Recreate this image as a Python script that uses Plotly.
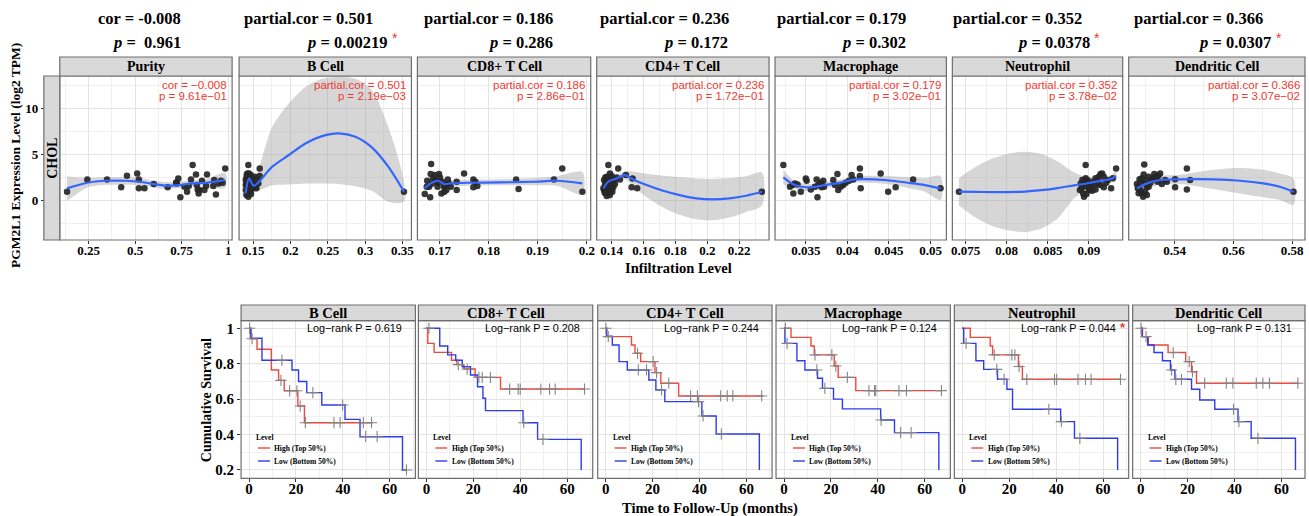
import plotly.graph_objects as go

W, H = 1309, 516

# ===================== DATA: correlation panels =====================
top_cells = ["Purity", "B Cell", "CD8+ T Cell", "CD4+ T Cell", "Macrophage", "Neutrophil", "Dendritic Cell"]
top_stat_name = ["cor", "partial.cor", "partial.cor", "partial.cor", "partial.cor", "partial.cor", "partial.cor"]
top_stat_value = ["-0.008", "0.501", "0.186", "0.236", "0.179", "0.352", "0.366"]
top_p_value = ["\u00a00.961", "0.00219", "0.286", "0.172", "0.302", "0.0378", "0.0307"]
top_p_sci = ["9.61e\u221201", "2.19e\u221203", "2.86e\u221201", "1.72e\u221201", "3.02e\u221201", "3.78e\u221202", "3.07e\u221202"]
top_signif = [False, True, False, False, False, True, True]
cancer_label = "CHOL"

expr_ticks = [0, 5, 10]
expr_ticklabels = ["0", "5", "10"]
expr_minor = [-2.5, 2.5, 7.5, 12.5]

purity_ticks = [0.25, 0.5, 0.75, 1.0]
purity_ticklabels = ["0.25", "0.5", "0.75", "1"]
purity_minor = [0.125, 0.375, 0.625, 0.875]
bcell_ticks = [0.15, 0.2, 0.25, 0.3, 0.35]
bcell_ticklabels = ["0.15", "0.2", "0.25", "0.3", "0.35"]
bcell_minor = [0.175, 0.225, 0.275, 0.325]
cd8_ticks = [0.17, 0.18, 0.19, 0.2]
cd8_ticklabels = ["0.17", "0.18", "0.19", "0.2"]
cd8_minor = [0.175, 0.185, 0.195]
cd4_ticks = [0.14, 0.16, 0.18, 0.2, 0.22]
cd4_ticklabels = ["0.14", "0.16", "0.18", "0.2", "0.22"]
cd4_minor = [0.15, 0.17, 0.19, 0.21, 0.23]
mac_ticks = [0.035, 0.04, 0.045, 0.05]
mac_ticklabels = ["0.035", "0.04", "0.045", "0.05"]
mac_minor = [0.0325, 0.0375, 0.0425, 0.0475]
neu_ticks = [0.075, 0.08, 0.085, 0.09]
neu_ticklabels = ["0.075", "0.08", "0.085", "0.09"]
neu_minor = [0.0775, 0.0825, 0.0875, 0.0925]
dc_ticks = [0.54, 0.56, 0.58]
dc_ticklabels = ["0.54", "0.56", "0.58"]
dc_minor = [0.53, 0.55, 0.57]

purity_x = [0.134, 0.243, 0.349, 0.425, 0.456, 0.511, 0.520, 0.520, 0.550, 0.600, 0.675, 0.720, 0.732, 0.743, 0.765, 0.779, 0.800, 0.809, 0.827, 0.831, 0.836, 0.841, 0.859, 0.872, 0.881, 0.886, 0.920, 0.925, 0.934, 0.949, 0.961, 0.970, 0.984, 0.724, 0.788, 0.845]
purity_y = [0.90, 2.24, 2.24, 1.38, 2.64, 2.90, 2.24, 1.27, 1.27, 1.74, 1.38, 1.92, 2.35, 0.29, 1.45, 0.90, 2.24, 3.80, 2.79, 1.63, 1.16, 0.72, 2.10, 1.09, 1.52, 2.79, 1.52, 2.17, 0.61, 1.81, 2.10, 1.88, 3.44, 1.81, 1.52, 1.09]
purity_fit_x = [0.134, 0.243, 0.349, 0.452, 0.524, 0.600, 0.675, 0.738, 0.809, 0.881, 0.984]
purity_fit_y = [1.27, 1.88, 2.10, 2.10, 1.99, 1.74, 1.56, 1.63, 1.81, 1.88, 2.17]
purity_fit_hi = [2.6, 2.4, 2.5, 2.5, 2.4, 2.1, 1.95, 2.0, 2.15, 2.3, 2.95]
purity_fit_lo = [-0.1, 1.35, 1.65, 1.65, 1.6, 1.35, 1.2, 1.3, 1.45, 1.45, 1.35]

bcell_x = [0.1437, 0.1589, 0.1424, 0.1469, 0.1411, 0.1491, 0.1446, 0.1411, 0.1469, 0.1513, 0.1535, 0.1424, 0.1402, 0.1446, 0.1411, 0.1437, 0.1589, 0.1491, 0.1460, 0.1424, 0.1446, 0.1482, 0.1571, 0.1402, 0.1433, 0.1469, 0.1500, 0.1420, 0.1557, 0.1446, 0.1526, 0.1415, 0.1473, 0.1544, 0.1402, 0.352]
bcell_y = [3.81, 3.44, 2.90, 2.72, 2.36, 2.36, 2.18, 1.81, 1.81, 1.63, 1.45, 1.45, 1.09, 0.91, 0.55, 0.36, 2.61, 1.27, 1.52, 1.99, 2.54, 1.99, 1.81, 1.63, 1.16, 1.02, 1.74, 0.80, 2.18, 2.90, 2.54, 2.72, 0.65, 1.27, 2.18, 0.91]
bcell_fit_x = [0.140, 0.1447, 0.151, 0.1757, 0.198, 0.220, 0.2424, 0.2646, 0.287, 0.309, 0.331, 0.352]
bcell_fit_y = [0.73, 2.36, 1.55, 3.63, 4.9, 6.16, 6.96, 7.25, 6.89, 5.73, 3.63, 0.91]
bcell_fit_hi = [1.5, 3.0, 2.2, 7.97, 10.5, 12.3, 13.2, 13.4, 13.2, 11.96, 7.97, 2.0]
bcell_fit_lo = [0.0, 1.7, 0.9, 1.6, 1.7, 1.8, 1.8, 1.75, 1.5, 1.0, -0.2, -0.2]

cd8_x = [0.1670, 0.1681, 0.1683, 0.1682, 0.1675, 0.1679, 0.1685, 0.1690, 0.1692, 0.1696, 0.1699, 0.1701, 0.1704, 0.1706, 0.1709, 0.1710, 0.1714, 0.1717, 0.1719, 0.1723, 0.1735, 0.1735, 0.1750, 0.1769, 0.1769, 0.1773, 0.1777, 0.1856, 0.1861, 0.1933, 0.1950, 0.1991, 0.1674, 0.1687, 0.1697, 0.1712]
cd8_y = [0.65, 0.29, 3.91, 2.82, 2.10, 1.45, 1.81, 2.72, 2.10, 1.45, 2.82, 2.46, 0.72, 1.99, 1.45, 0.90, 1.09, 2.24, 1.81, 1.45, 1.09, 1.99, 2.90, 2.24, 1.38, 1.99, 1.52, 2.24, 1.20, 2.24, 3.44, 0.90, 1.45, 2.35, 1.88, 1.63]
cd8_fit_x = [0.1670, 0.1682, 0.1697, 0.1709, 0.1723, 0.1756, 0.1824, 0.1891, 0.1939, 0.1991]
cd8_fit_y = [1.27, 1.81, 2.10, 1.74, 1.81, 1.88, 1.92, 1.99, 2.10, 1.81]
cd8_fit_hi = [1.9, 2.3, 2.5, 2.1, 2.15, 2.2, 2.25, 2.4, 2.6, 3.05]
cd8_fit_lo = [0.65, 1.3, 1.7, 1.4, 1.45, 1.55, 1.6, 1.6, 1.55, 0.6]

cd4_x = [0.1379, 0.1441, 0.1352, 0.1369, 0.1389, 0.1400, 0.1358, 0.1379, 0.1394, 0.1406, 0.1352, 0.1364, 0.1369, 0.1385, 0.1400, 0.1410, 0.1348, 0.1364, 0.1373, 0.1385, 0.1414, 0.1452, 0.1489, 0.1531, 0.1525, 0.1560, 0.1356, 0.1389, 0.1381, 0.1398, 0.1360, 0.1421, 0.1375, 0.1404, 0.1431, 0.2343]
cd4_y = [3.80, 3.44, 2.17, 2.54, 2.90, 2.61, 1.63, 1.81, 1.45, 1.99, 1.09, 0.72, 0.43, 0.90, 1.16, 1.38, 1.27, 1.88, 1.38, 2.24, 2.17, 2.24, 2.72, 2.35, 1.38, 1.27, 0.80, 0.54, 1.63, 1.88, 2.46, 1.74, 1.16, 0.90, 2.46, 0.90]
cd4_fit_x = [0.1348, 0.1379, 0.1431, 0.1483, 0.1535, 0.1619, 0.1723, 0.1827, 0.1931, 0.2035, 0.2139, 0.2244, 0.2343]
cd4_fit_y = [1.27, 1.99, 2.35, 2.72, 2.24, 1.63, 1.01, 0.54, 0.18, 0.07, 0.18, 0.47, 0.90]
cd4_fit_hi = [1.9, 2.4, 2.7, 3.1, 3.1, 2.85, 2.65, 2.5, 2.35, 2.3, 2.4, 2.6, 3.0]
cd4_fit_lo = [0.5, 1.5, 2.0, 2.3, 1.5, 0.3, -0.8, -1.6, -2.1, -2.2, -1.9, -1.3, -0.6]

mac_x = [0.0323, 0.0331, 0.0335, 0.0337, 0.0340, 0.0344, 0.0350, 0.0351, 0.0356, 0.0363, 0.0364, 0.0365, 0.0368, 0.0371, 0.0372, 0.0383, 0.0385, 0.0388, 0.0389, 0.0392, 0.0395, 0.0398, 0.0402, 0.0405, 0.0407, 0.0415, 0.0415, 0.0416, 0.0440, 0.0449, 0.0458, 0.0479, 0.0512, 0.0369, 0.0334, 0.0361]
mac_y = [3.80, 1.45, 0.72, 1.81, 1.70, 0.90, 2.35, 2.10, 1.16, 2.24, 0.29, 1.63, 1.88, 2.10, 1.45, 2.17, 1.63, 2.82, 1.09, 1.45, 1.63, 1.88, 2.10, 2.72, 2.24, 3.44, 2.61, 1.27, 2.90, 0.90, 1.38, 2.24, 1.27, 1.38, 1.63, 1.45]
mac_fit_x = [0.0323, 0.0333, 0.0345, 0.0357, 0.0373, 0.0393, 0.0409, 0.0433, 0.0453, 0.0473, 0.0493, 0.0512]
mac_fit_y = [2.46, 1.81, 1.45, 1.38, 1.63, 1.92, 2.24, 2.24, 2.10, 1.88, 1.63, 1.27]
mac_fit_hi = [3.3, 2.3, 1.85, 1.75, 1.95, 2.25, 2.6, 2.65, 2.6, 2.5, 2.4, 2.6]
mac_fit_lo = [1.7, 1.35, 1.05, 1.0, 1.3, 1.6, 1.9, 1.85, 1.65, 1.3, 0.9, 0.0]

neu_x = [0.0896, 0.0892, 0.0894, 0.0891, 0.0893, 0.0894, 0.0896, 0.0898, 0.0900, 0.0900, 0.0902, 0.0904, 0.0906, 0.0908, 0.0910, 0.0912, 0.0914, 0.0916, 0.0918, 0.0918, 0.0921, 0.0927, 0.0929, 0.0933, 0.0890, 0.0896, 0.0897, 0.0904, 0.0908, 0.0914, 0.0923, 0.0892, 0.0900, 0.0911, 0.0889, 0.0742]
neu_y = [3.80, 2.18, 1.81, 1.27, 0.72, 0.36, 1.52, 2.18, 1.09, 1.88, 1.45, 1.99, 1.63, 1.16, 2.18, 2.54, 2.83, 2.90, 2.54, 1.38, 1.88, 1.27, 2.36, 3.44, 1.81, 2.36, 0.65, 1.02, 2.36, 1.63, 2.18, 1.45, 1.27, 1.74, 1.09, 0.91]
neu_fit_x = [0.0742, 0.0762, 0.0782, 0.0802, 0.0822, 0.0842, 0.0862, 0.0882, 0.0897, 0.0912, 0.0927, 0.0933]
neu_fit_y = [0.91, 0.88, 0.87, 0.87, 0.92, 1.07, 1.30, 1.60, 1.80, 2.05, 2.30, 2.60]
neu_fit_hi = [2.4, 3.6, 4.5, 5.05, 5.25, 5.0, 4.2, 3.0, 2.5, 2.45, 2.7, 3.1]
neu_fit_lo = [-0.6, -1.9, -2.8, -3.3, -3.5, -3.1, -2.0, 0.2, 1.1, 1.65, 1.9, 2.1]

dc_x = [0.5297, 0.5295, 0.5281, 0.5272, 0.5278, 0.5284, 0.5289, 0.5293, 0.5297, 0.5304, 0.5306, 0.5312, 0.5318, 0.5323, 0.5331, 0.5338, 0.5342, 0.5351, 0.5357, 0.5368, 0.5402, 0.5402, 0.5442, 0.5442, 0.5453, 0.5805, 0.5286, 0.5278, 0.5300, 0.5312, 0.5326, 0.5289, 0.5275, 0.5306, 0.5345, 0.5374]
dc_y = [3.88, 2.79, 2.25, 1.74, 1.45, 1.09, 0.73, 0.36, 1.81, 2.18, 1.38, 2.54, 1.88, 2.18, 2.83, 2.54, 1.99, 2.90, 1.74, 2.18, 2.25, 1.38, 3.44, 1.16, 2.18, 0.91, 1.88, 0.73, 0.91, 1.45, 2.36, 2.36, 1.27, 0.54, 2.61, 2.00]
dc_fit_x = [0.5272, 0.5306, 0.5351, 0.5419, 0.5532, 0.5623, 0.5702, 0.5758, 0.5805]
dc_fit_y = [1.27, 1.81, 2.18, 2.25, 2.25, 2.10, 1.81, 1.45, 0.91]
dc_fit_hi = [1.85, 2.45, 2.65, 2.75, 3.3, 3.5, 3.3, 2.9, 2.35]
dc_fit_lo = [0.7, 1.2, 1.7, 1.75, 1.2, 0.7, 0.3, 0.0, -0.5]

# ===================== DATA: survival panels =====================
km_cells = ["B Cell", "CD8+ T Cell", "CD4+ T Cell", "Macrophage", "Neutrophil", "Dendritic Cell"]
km_logrank_p = ["0.619", "0.208", "0.244", "0.124", "0.044", "0.131"]
km_signif = [False, False, False, False, True, False]
km_group_labels = ["High (Top 50%)", "Low (Bottom 50%)"]
km_legend_title = "Level"
time_ticks = [0, 20, 40, 60]
time_ticklabels = ["0", "20", "40", "60"]
time_minor = [10, 30, 50, 70]
surv_ticks = [0.2, 0.4, 0.6, 0.8, 1.0]
surv_ticklabels = ["0.2", "0.4", "0.6", "0.8", "1"]
surv_minor = [0.3, 0.5, 0.7, 0.9]

bcell_high_t = [0, 0.6, 3.4, 9.5, 12.6, 15.0, 20.8, 23.6]
bcell_high_s = [1, 0.941, 0.882, 0.765, 0.706, 0.647, 0.561, 0.467]
bcell_high_end = 52.7
bcell_high_cens = [1.3, 13.6, 17.3, 20.4, 21.8, 24.0, 36.2, 38.8, 48.7, 52.2]
bcell_low_t = [0, 0.85, 5.5, 18.3, 21.1, 24.6, 31.0, 40.9, 47.3, 65.4]
bcell_low_s = [1, 0.944, 0.82, 0.765, 0.70, 0.637, 0.567, 0.486, 0.388, 0.2]
bcell_low_end = 67.1
bcell_low_cens = [0.2, 14.0, 27.2, 39.9, 49.7, 54.6, 67.1]

cd8_high_t = [0, 0.6, 3.3, 10.7, 13.0, 16.0, 20.8, 31.6]
cd8_high_s = [1, 0.915, 0.864, 0.82, 0.795, 0.77, 0.723, 0.657]
cd8_high_end = 67.7
cd8_high_cens = [13.6, 17.4, 22.4, 23.8, 27.3, 35.5, 39.1, 40.0, 48.8, 52.5, 54.9, 67.4]
cd8_low_t = [0, 5.7, 9.1, 12.5, 15.3, 18.8, 21.8, 24.1, 25.2, 41.2, 47.4, 66.0]
cd8_low_s = [1, 0.9, 0.85, 0.82, 0.783, 0.736, 0.67, 0.605, 0.535, 0.467, 0.373, 0.2]
cd8_low_end = 66.0
cd8_low_cens = [1.1, 41.5, 49.7]

cd4_high_t = [0, 0.4, 11.0, 12.5, 14.9, 21.0, 23.5, 31.1]
cd4_high_s = [1, 0.953, 0.906, 0.859, 0.812, 0.75, 0.69, 0.618]
cd4_high_end = 67.2
cd4_high_cens = [1.1, 13.6, 20.2, 21.7, 26.9, 36.2, 39.1, 49.0, 51.8, 54.2, 66.5]
cd4_low_t = [0, 0.4, 2.8, 5.7, 9.2, 18.4, 21.4, 25.2, 41.0, 47.1, 65.5]
cd4_low_s = [1, 0.955, 0.906, 0.812, 0.765, 0.708, 0.652, 0.586, 0.505, 0.403, 0.2]
cd4_low_end = 65.5
cd4_low_cens = [0.1, 13.9, 17.4, 23.8, 39.6, 41.5, 49.3]

mac_high_t = [0, 3.0, 11.5, 12.9, 21.4, 23.1, 30.6]
mac_high_s = [1, 0.949, 0.9, 0.85, 0.787, 0.723, 0.648]
mac_high_end = 67.4
mac_high_cens = [0.6, 13.2, 20.4, 22.1, 27.0, 36.2, 38.6, 39.1, 49.0, 52.2, 67.1]
mac_low_t = [0, 0.4, 5.5, 8.9, 14.3, 16.4, 21.1, 24.9, 41.2, 47.1, 66.0]
mac_low_s = [1, 0.915, 0.817, 0.765, 0.718, 0.661, 0.6, 0.545, 0.482, 0.411, 0.2]
mac_low_end = 66.0
mac_low_cens = [1.3, 14.0, 17.4, 41.4, 49.7, 54.2]

neu_high_t = [0, 3.4, 11.9, 12.9, 23.9, 25.6]
neu_high_s = [1, 0.949, 0.9, 0.85, 0.784, 0.712]
neu_high_end = 67.7
neu_high_cens = [13.6, 21.1, 22.4, 24.2, 27.5, 39.3, 40.2, 49.3, 52.5, 54.9, 67.4]
neu_low_t = [0, 0.6, 5.8, 9.1, 15.0, 19.0, 21.4, 41.9, 47.8, 66.2]
neu_low_s = [1, 0.915, 0.817, 0.768, 0.712, 0.656, 0.543, 0.473, 0.379, 0.2]
neu_low_end = 66.2
neu_low_cens = [1.6, 14.7, 17.8, 36.9, 42.2, 50.1]

dc_high_t = [0, 0.8, 3.3, 11.7, 19.2, 21.7, 23.8]
dc_high_s = [1, 0.953, 0.906, 0.863, 0.812, 0.755, 0.69]
dc_high_end = 67.4
dc_high_cens = [2.3, 13.9, 20.7, 22.1, 27.3, 36.5, 39.3, 49.3, 52.1, 54.9, 67.0]
dc_low_t = [0, 0.6, 3.0, 5.7, 9.3, 12.7, 14.6, 21.7, 25.2, 31.6, 41.5, 47.1, 66.0]
dc_low_s = [1, 0.953, 0.906, 0.863, 0.817, 0.765, 0.712, 0.656, 0.595, 0.543, 0.473, 0.379, 0.2]
dc_low_end = 66.0
dc_low_cens = [0.2, 13.2, 15.0, 17.4, 39.6, 41.9, 50.0]

# ===================== assemble =====================
top_panels = [
    (purity_x, purity_y, purity_fit_x, purity_fit_y, purity_fit_hi, purity_fit_lo, purity_ticks, purity_ticklabels, purity_minor),
    (bcell_x, bcell_y, bcell_fit_x, bcell_fit_y, bcell_fit_hi, bcell_fit_lo, bcell_ticks, bcell_ticklabels, bcell_minor),
    (cd8_x, cd8_y, cd8_fit_x, cd8_fit_y, cd8_fit_hi, cd8_fit_lo, cd8_ticks, cd8_ticklabels, cd8_minor),
    (cd4_x, cd4_y, cd4_fit_x, cd4_fit_y, cd4_fit_hi, cd4_fit_lo, cd4_ticks, cd4_ticklabels, cd4_minor),
    (mac_x, mac_y, mac_fit_x, mac_fit_y, mac_fit_hi, mac_fit_lo, mac_ticks, mac_ticklabels, mac_minor),
    (neu_x, neu_y, neu_fit_x, neu_fit_y, neu_fit_hi, neu_fit_lo, neu_ticks, neu_ticklabels, neu_minor),
    (dc_x, dc_y, dc_fit_x, dc_fit_y, dc_fit_hi, dc_fit_lo, dc_ticks, dc_ticklabels, dc_minor),
]
km_panels = [
    ((bcell_high_t, bcell_high_s, bcell_high_end, bcell_high_cens), (bcell_low_t, bcell_low_s, bcell_low_end, bcell_low_cens)),
    ((cd8_high_t, cd8_high_s, cd8_high_end, cd8_high_cens), (cd8_low_t, cd8_low_s, cd8_low_end, cd8_low_cens)),
    ((cd4_high_t, cd4_high_s, cd4_high_end, cd4_high_cens), (cd4_low_t, cd4_low_s, cd4_low_end, cd4_low_cens)),
    ((mac_high_t, mac_high_s, mac_high_end, mac_high_cens), (mac_low_t, mac_low_s, mac_low_end, mac_low_cens)),
    ((neu_high_t, neu_high_s, neu_high_end, neu_high_cens), (neu_low_t, neu_low_s, neu_low_end, neu_low_cens)),
    ((dc_high_t, dc_high_s, dc_high_end, dc_high_cens), (dc_low_t, dc_low_s, dc_low_end, dc_low_cens)),
]

# ===================== layout / style =====================
SERIF = "Liberation Serif"
SANS = "Liberation Sans"
RED_TXT = "#EE3A32"
GRID = "#E4E4E4"
MINOR = "#F0F0F0"
BORDER = "#6E6E6E"
STRIP = "#D9D9D9"
HIGH_COL = "#EA4A3F"
LOW_COL = "#2E3BE8"

TOP_L = [59, 239, 418, 598, 777, 955, 1132]
TOP_R = [232, 412, 592, 771, 949, 1126, 1309]
TOP_Y0, TOP_Y1, TOP_STRIP = 76, 240, 57
TOP_XRANGE = [[0.095, 1.021], [0.1313, 0.362], [0.1655, 0.2008], [0.1306, 0.2388],
              [0.0313, 0.0519], [0.0734, 0.0941], [0.5244, 0.5844]]
TOP_YRANGE = [-4.35, 13.5]
TITLE_R1 = [183, 375, 556, 733, 910, 1087, 1269]
TITLE_R2 = [183, 390, 556, 732, 910, 1095, 1277]

KM_L = [241, 419, 599, 778, 957, 1136]
KM_R = [416, 594, 774, 953, 1132, 1309]
KM_Y0, KM_Y1, KM_STRIP = 320.7, 478.3, 305
KM_XRANGE = [-3.4, 70.9]
KM_YRANGE = [0.153, 1.043]
PX_PER_MONTH = 2.355


def fx(p):
    return p / W


def fy(p):
    return 1 - p / H


fig = go.Figure()
layout = dict(width=W, height=H, margin=dict(l=0, r=0, t=0, b=0),
              paper_bgcolor="white", plot_bgcolor="white", showlegend=False)
shapes, annotations = [], []


def axis_names(k):
    return ("x" if k == 1 else f"x{k}"), ("y" if k == 1 else f"y{k}")


def common_axis(tickvals, ticktext, minor_vals, show_labels, fsize, standoff=0):
    return dict(
        tickmode="array", tickvals=tickvals, ticktext=ticktext,
        showgrid=True, gridcolor=GRID, gridwidth=1.1,
        minor=dict(tickmode="array", tickvals=minor_vals, showgrid=True, gridcolor=MINOR, gridwidth=0.8, ticks=""),
        zeroline=False, showline=False,
        ticks="outside" if show_labels else "", ticklen=3, tickcolor="#333333", tickwidth=1,
        showticklabels=show_labels, ticklabelstandoff=standoff,
        tickfont=dict(family=SERIF, size=fsize, color="black", weight="bold"),
    )


# ---- top row ----
for i, (px_, py_, fx_, fy_, hi_, lo_, tv, tt, mv) in enumerate(top_panels):
    k = i + 1
    xn, yn = axis_names(k)
    xa = common_axis(tv, tt, mv, True, 13, standoff=-5)
    xa.update(domain=[fx(TOP_L[i]), fx(TOP_R[i])], range=TOP_XRANGE[i], anchor=yn)
    ya = common_axis(expr_ticks, expr_ticklabels, expr_minor, k == 1, 13)
    ya.update(domain=[fy(TOP_Y1), fy(TOP_Y0)], range=TOP_YRANGE)
    if k == 1:
        ya.update(anchor="free", position=fx(43))
    else:
        ya.update(anchor=xn)
    layout["xaxis" if k == 1 else f"xaxis{k}"] = xa
    layout["yaxis" if k == 1 else f"yaxis{k}"] = ya

    fig.add_trace(go.Scatter(x=fx_ + fx_[::-1], y=hi_ + lo_[::-1], xaxis=xn, yaxis=yn,
                             mode="lines", fill="toself", fillcolor="rgba(153,153,153,0.4)",
                             line=dict(width=0, shape="spline", smoothing=0.8), hoverinfo="skip"))
    fig.add_trace(go.Scatter(x=px_, y=py_, xaxis=xn, yaxis=yn, mode="markers",
                             marker=dict(size=6.5, color="rgba(38,38,38,0.92)", line=dict(width=0))))
    fig.add_trace(go.Scatter(x=fx_, y=fy_, xaxis=xn, yaxis=yn, mode="lines",
                             line=dict(color="#3366FF", width=2.2, shape="spline", smoothing=0.8)))

    # border + strip
    shapes.append(dict(type="rect", xref="paper", yref="paper", x0=fx(TOP_L[i]), x1=fx(TOP_R[i]),
                       y0=fy(TOP_Y1), y1=fy(TOP_Y0), line=dict(color=BORDER, width=1.2), layer="above"))
    shapes.append(dict(type="rect", xref="paper", yref="paper", x0=fx(TOP_L[i]), x1=fx(TOP_R[i]),
                       y0=fy(TOP_Y0), y1=fy(TOP_STRIP), fillcolor=STRIP, line=dict(color=BORDER, width=1.2)))
    annotations.append(dict(text=top_cells[i], xref="paper", yref="paper",
                            x=fx((TOP_L[i] + TOP_R[i]) / 2), y=fy((TOP_STRIP + TOP_Y0) / 2),
                            showarrow=False, xanchor="center", yanchor="middle",
                            font=dict(family=SERIF, size=14, color="black", weight="bold")))
    # in-panel red stats
    red_val = top_stat_value[i].replace("-", "\u2212")
    annotations.append(dict(text=f"{top_stat_name[i]} = {red_val}", xref=f"{xn} domain", yref=f"{yn} domain",
                            x=1 - 3.5 / (TOP_R[i] - TOP_L[i]), y=(TOP_Y1 - 85) / (TOP_Y1 - TOP_Y0),
                            showarrow=False, xanchor="right", yanchor="middle",
                            font=dict(family=SANS, size=11.5, color=RED_TXT)))
    annotations.append(dict(text=f"p = {top_p_sci[i]}", xref=f"{xn} domain", yref=f"{yn} domain",
                            x=1 - 3.5 / (TOP_R[i] - TOP_L[i]), y=(TOP_Y1 - 96) / (TOP_Y1 - TOP_Y0),
                            showarrow=False, xanchor="right", yanchor="middle",
                            font=dict(family=SANS, size=11.5, color=RED_TXT)))
    # titles above
    annotations.append(dict(text=f"{top_stat_name[i]} = {top_stat_value[i]}", xref="paper", yref="paper",
                            x=fx(TITLE_R1[i]), y=fy(19), showarrow=False, xanchor="right", yanchor="middle",
                            font=dict(family=SERIF, size=16.5, color="black", weight="bold")))
    annotations.append(dict(text=f"<i>p</i> = {top_p_value[i]}", xref="paper", yref="paper",
                            x=fx(TITLE_R2[i]), y=fy(42), showarrow=False, xanchor="right", yanchor="middle",
                            font=dict(family=SERIF, size=16.5, color="black", weight="bold")))
    if top_signif[i]:
        annotations.append(dict(text="*", xref="paper", yref="paper", x=fx(TITLE_R2[i] + 0.5), y=fy(38),
                                showarrow=False, xanchor="left", yanchor="middle",
                                font=dict(family=SANS, size=14, color=RED_TXT)))

# left strip with cancer label
shapes.append(dict(type="rect", xref="paper", yref="paper", x0=fx(43), x1=fx(59),
                   y0=fy(TOP_Y1), y1=fy(TOP_Y0), fillcolor=STRIP, line=dict(color=BORDER, width=1.2)))
annotations.append(dict(text=cancer_label, xref="paper", yref="paper", x=fx(51), y=fy((TOP_Y0 + TOP_Y1) / 2),
                        textangle=-90, showarrow=False, xanchor="center", yanchor="middle",
                        font=dict(family=SERIF, size=14, color="black", weight="bold")))
annotations.append(dict(text="PGM2L1 Expression Level (log2 TPM)", xref="paper", yref="paper",
                        x=fx(14), y=fy(155), textangle=-90, showarrow=False,
                        xanchor="center", yanchor="middle",
                        font=dict(family=SERIF, size=13.5, color="black", weight="bold")))
annotations.append(dict(text="Infiltration Level", xref="paper", yref="paper", x=fx(680), y=fy(268),
                        showarrow=False, xanchor="center", yanchor="middle",
                        font=dict(family=SERIF, size=14.5, color="black", weight="bold")))


# ---- bottom row ----
def surv_at(t_list, s_list, c):
    val = s_list[0]
    for t, s in zip(t_list, s_list):
        if t <= c:
            val = s
    return val


for j, groups in enumerate(km_panels):
    k = 8 + j
    xn, yn = axis_names(k)
    xr = [KM_XRANGE[0], KM_XRANGE[0] + (KM_R[j] - KM_L[j]) / PX_PER_MONTH]
    xa = common_axis(time_ticks, time_ticklabels, time_minor, True, 15, standoff=-6)
    xa.update(domain=[fx(KM_L[j]), fx(KM_R[j])], range=xr, anchor=yn)
    ya = common_axis(surv_ticks, surv_ticklabels, surv_minor, j == 0, 15)
    ya.update(domain=[fy(KM_Y1), fy(KM_Y0)], range=KM_YRANGE, anchor=xn)
    layout[f"xaxis{k}"] = xa
    layout[f"yaxis{k}"] = ya

    for (t, s, end, cens), col in zip(groups, [HIGH_COL, LOW_COL]):
        fig.add_trace(go.Scatter(x=t + [end], y=s + [s[-1]], xaxis=xn, yaxis=yn, mode="lines",
                                 line=dict(color=col, width=1.4, shape="hv")))
    for (t, s, end, cens) in groups:
        fig.add_trace(go.Scatter(x=cens, y=[surv_at(t, s, c) for c in cens], xaxis=xn, yaxis=yn,
                                 mode="markers",
                                 marker=dict(symbol="cross-thin", size=8, color="#858585",
                                             line=dict(width=1.1, color="#858585"))))

    shapes.append(dict(type="rect", xref="paper", yref="paper", x0=fx(KM_L[j]), x1=fx(KM_R[j]),
                       y0=fy(KM_Y1), y1=fy(KM_Y0), line=dict(color=BORDER, width=1.2), layer="above"))
    shapes.append(dict(type="rect", xref="paper", yref="paper", x0=fx(KM_L[j]), x1=fx(KM_R[j]),
                       y0=fy(KM_Y0), y1=fy(KM_STRIP), fillcolor=STRIP, line=dict(color=BORDER, width=1.2)))
    annotations.append(dict(text=km_cells[j], xref="paper", yref="paper",
                            x=fx((KM_L[j] + KM_R[j]) / 2), y=fy((KM_STRIP + KM_Y0) / 2),
                            showarrow=False, xanchor="center", yanchor="middle",
                            font=dict(family=SERIF, size=14.5, color="black", weight="bold")))
    annotations.append(dict(text=f"Log\u2212rank P = {km_logrank_p[j]}", xref="paper", yref="paper",
                            x=fx(KM_R[j] - 11), y=fy(328), showarrow=False, xanchor="right", yanchor="middle",
                            font=dict(family=SANS, size=10.8, color="black")))
    if km_signif[j]:
        annotations.append(dict(text="*", xref="paper", yref="paper", x=fx(KM_R[j] - 10.5), y=fy(327),
                                showarrow=False, xanchor="left", yanchor="middle",
                                font=dict(family=SANS, size=13, color=RED_TXT, weight="bold")))
    # in-panel legend
    pw, ph = KM_R[j] - KM_L[j], KM_Y1 - KM_Y0
    annotations.append(dict(text=km_legend_title, xref=f"{xn} domain", yref=f"{yn} domain",
                            x=13 / pw, y=(KM_Y1 - 437) / ph, showarrow=False, xanchor="left", yanchor="middle",
                            font=dict(family=SERIF, size=7.5, color="black", weight="bold")))
    for lab, col, ypx in zip(km_group_labels, [HIGH_COL, LOW_COL], [448, 461]):
        shapes.append(dict(type="line", xref=f"{xn} domain", yref=f"{yn} domain",
                           x0=17 / pw, x1=29 / pw, y0=(KM_Y1 - ypx) / ph, y1=(KM_Y1 - ypx) / ph,
                           line=dict(color=col, width=1.4)))
        annotations.append(dict(text=lab, xref=f"{xn} domain", yref=f"{yn} domain",
                                x=31.5 / pw, y=(KM_Y1 - ypx) / ph, showarrow=False, xanchor="left",
                                yanchor="middle", font=dict(family=SERIF, size=7.5, color="black", weight="bold")))

annotations.append(dict(text="Cumulative Survival", xref="paper", yref="paper", x=fx(206), y=fy(400),
                        textangle=-90, showarrow=False, xanchor="center", yanchor="middle",
                        font=dict(family=SERIF, size=14, color="black", weight="bold")))
annotations.append(dict(text="Time to Follow-Up (months)", xref="paper", yref="paper", x=fx(712), y=fy(508),
                        showarrow=False, xanchor="center", yanchor="middle",
                        font=dict(family=SERIF, size=14.5, color="black", weight="bold")))

layout["shapes"] = shapes
layout["annotations"] = annotations
fig.update_layout(**layout)
fig.write_html("out.html", config={"displayModeBar": False},
               post_script="document.body.style.margin='0';document.body.style.overflow='hidden';")
